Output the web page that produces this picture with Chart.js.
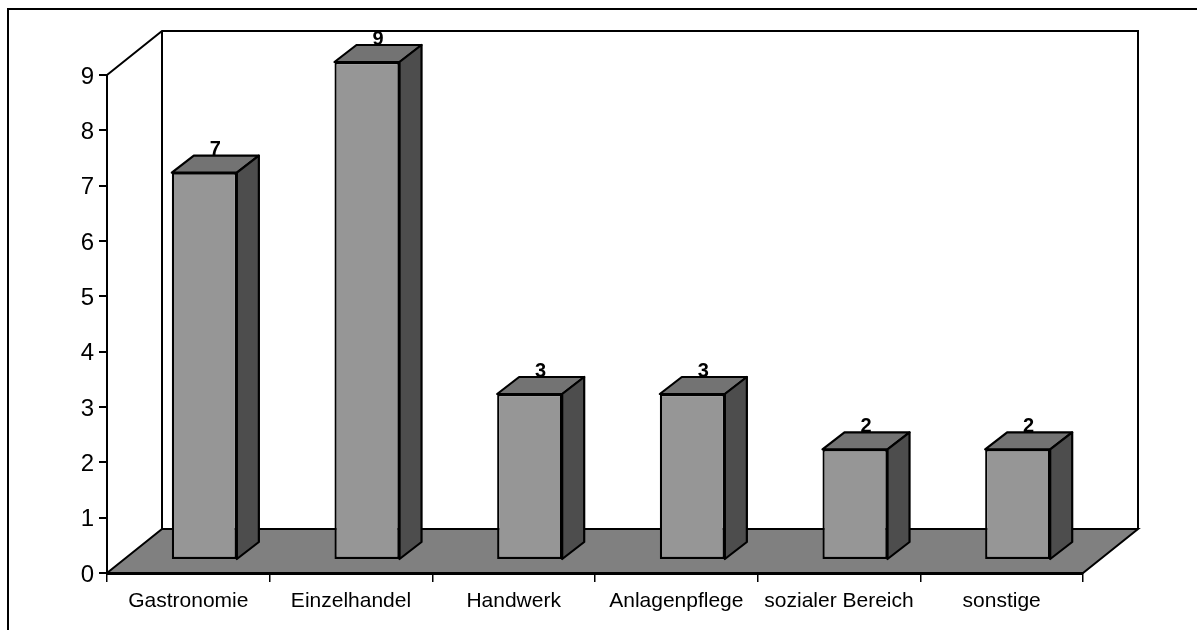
<!DOCTYPE html>
<html lang="de">
<head>
<meta charset="utf-8">
<title>Branchen</title>
<script src="https://cdn.jsdelivr.net/npm/chart.js@4"></script>
<style>
  html, body { margin: 0; background: #fff; overflow: hidden; }
  #frame { position: absolute; left: 7px; top: 8px; width: 1190px; height: 622px;
           box-sizing: border-box; border-top: 2px solid #000; border-left: 2px solid #000; }
  canvas { position: absolute; left: 0; top: 0; }
</style>
</head>
<body>
<div id="frame"></div>
<canvas id="chart" width="1197" height="630"></canvas>
<script>
const categories = ["Gastronomie", "Einzelhandel", "Handwerk", "Anlagenpflege", "sozialer Bereich", "sonstige"];
const values = [7, 9, 3, 3, 2, 2];

// 3D look: wall depth, bar shift from the front plane, bar depth
const WALL = { x: 55, y: -44 };
const SHIFT = { x: 16, y: -13 };
const DEPTH = { x: 22, y: -17 };

const FRONT = "#969696";
const SIDE = "#4d4d4d";
const TOP = "#737373";
const FLOOR = "#808080";

function poly(ctx, pts, fill) {
  ctx.beginPath();
  pts.forEach((p, i) => (i ? ctx.lineTo(p[0], p[1]) : ctx.moveTo(p[0], p[1])));
  ctx.closePath();
  if (fill) { ctx.fillStyle = fill; ctx.fill(); }
  ctx.stroke();
}

const room = {
  id: "room",
  beforeDraw(chart) {
    const { ctx, chartArea: a } = chart;
    const bx = a.left + WALL.x, tx = a.right + WALL.x;
    const by = a.bottom + WALL.y, ty = a.top + WALL.y;
    ctx.save();
    ctx.strokeStyle = "#000";
    ctx.lineWidth = 2;
    poly(ctx, [[a.left, a.bottom], [bx, by], [tx, by], [a.right, a.bottom]], FLOOR);
    ctx.beginPath();
    ctx.moveTo(a.left, a.top); ctx.lineTo(bx, ty); ctx.lineTo(tx, ty); ctx.lineTo(tx, by);
    ctx.moveTo(bx, ty); ctx.lineTo(bx, by);
    ctx.stroke();
    ctx.restore();
  },
};

const bars3d = {
  id: "bars3d",
  beforeDatasetsDraw(chart) {
    const { ctx } = chart;
    const bars = chart.getDatasetMeta(0).data;
    ctx.save();
    ctx.translate(SHIFT.x, SHIFT.y);
    // value labels go first, the top faces sit over their feet
    ctx.fillStyle = "#000";
    ctx.font = "bold 20px 'Liberation Sans'";
    ctx.textAlign = "center";
    ctx.textBaseline = "middle";
    bars.forEach((b, i) => {
      ctx.fillText(values[i], b.x + DEPTH.x / 2, b.y - 23);
    });
    ctx.strokeStyle = "#000";
    ctx.lineWidth = 2.2;
    ctx.lineJoin = "round";
    bars.forEach((b) => {
      const l = b.x - b.width / 2, r = b.x + b.width / 2;
      poly(ctx, [[l, b.y], [l + DEPTH.x, b.y + DEPTH.y], [r + DEPTH.x, b.y + DEPTH.y], [r, b.y]], TOP);
      poly(ctx, [[r, b.y], [r + DEPTH.x, b.y + DEPTH.y], [r + DEPTH.x, b.base + DEPTH.y], [r, b.base]], SIDE);
    });
  },
  afterDatasetsDraw(chart) {
    chart.ctx.restore();
  },
};

new Chart(document.getElementById("chart"), {
  type: "bar",
  data: {
    labels: categories,
    datasets: [{
      data: values,
      backgroundColor: FRONT,
      borderColor: "#000",
      borderWidth: 2.2,
      borderSkipped: false,
      barPercentage: 0.4,
      categoryPercentage: 1,
      clip: false,
    }],
  },
  options: {
    responsive: false,
    animation: false,
    layout: { padding: { top: 75, right: 114 } },
    plugins: { legend: { display: false }, tooltip: { enabled: false } },
    scales: {
      x: {
        afterFit: (s) => { s.height = 57; },
        grid: { drawOnChartArea: false, offset: true, color: "#000", lineWidth: 1.5, tickLength: 9 },
        border: { color: "#000", width: 3 },
        ticks: { color: "#000", font: { family: "Liberation Sans", size: 21 }, padding: 7, maxRotation: 0, autoSkip: false },
      },
      y: {
        min: 0,
        max: 9,
        afterFit: (s) => { s.width = 107; },
        grid: { drawOnChartArea: false, color: "#000", lineWidth: 2, tickLength: 8 },
        border: { color: "#000", width: 2 },
        ticks: { color: "#000", font: { family: "Liberation Sans", size: 24 }, stepSize: 1, padding: 5, labelOffset: 2 },
      },
    },
  },
  plugins: [room, bars3d],
});
</script>
</body>
</html>
